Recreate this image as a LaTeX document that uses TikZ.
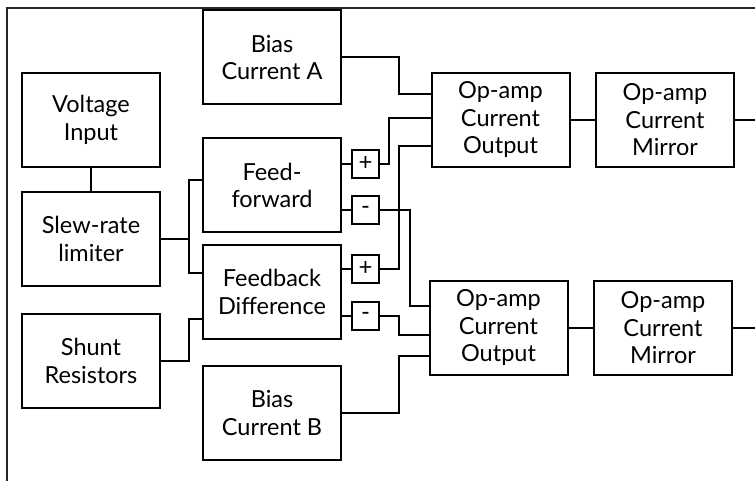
\documentclass[tikz,border=0pt]{standalone}
\usepackage{fontspec}
\setmainfont{Lato}
\usepackage{tikz}
\usetikzlibrary{positioning, calc}
\tikzset{
  block/.style={rectangle, draw=black, line width=2pt,
                minimum width=138pt, minimum height=94pt,
                inner sep=2pt, align=center,
                font=\fontsize{23.5}{27.5}\selectfont},
  signbox/.style={rectangle, draw=black, line width=1.8pt,
                  minimum width=27pt, minimum height=28pt,
                  inner sep=0pt, font=\fontsize{24}{26}\selectfont},
  wire/.style={draw=black, line width=2pt},
  frame/.style={draw=black!85, line width=1.5pt},
}

\begin{document}
\begin{tikzpicture}[x=1pt, y=-1pt]
    \useasboundingbox (0,0) rectangle (755,481);
    %% frame
    \draw[frame] (7,481) -- (7,8) -- (755,8);
    %% left column
    \node[block] (volt)  at (91,120) {Voltage\\Input};
    \node[block] (slew)  at (91,239) {Slew-rate\\limiter};
    \node[block] (shunt) at (91,361) {Shunt\\Resistors};
    %% middle column
    \node[block] (biasA)  at (272,57.5) {Bias\\Current A};
    \node[block] (ffwd)   at (272,185.5) {Feed-\\forward};
    \node[block] (fbdiff) at (272,292) {Feedback\\Difference};
    \node[block] (biasB)  at (272,413) {Bias\\Current B};
    %% sign boxes
    \node[signbox] (plusA)  at (365.5,164) {+};
    \node[signbox] (minusA) at (365.5,210) {-};
    \node[signbox] (plusB)  at (365.5,269) {+};
    \node[signbox] (minusB) at (365.5,316) {-};
    %% op-amps
    \node[block] (outA) at (500.5,120) {Op-amp\\Current\\Output};
    \node[block] (mirA) at (665,120)   {Op-amp\\Current\\Mirror};
    \node[block] (outB) at (498.5,328) {Op-amp\\Current\\Output};
    \node[block] (mirB) at (663,328)   {Op-amp\\Current\\Mirror};
    \coordinate (endA) at (755,120);
    \coordinate (endB) at (755,328);
    %% left wiring
    \draw[wire] (volt) -- (slew);
    \coordinate (split) at ([xshift=28pt]slew.east);
    \draw[wire] (slew.east) -- (split) |- ([yshift=5pt]ffwd.west);
    \draw[wire] (split) |- ([yshift=19pt]fbdiff.west);
    \draw[wire] (shunt.east) -- ++(28,0) |- ([yshift=-27pt]fbdiff.west);
    %% sign stubs
    \draw[wire] (ffwd.east |- plusA.west) -- (plusA.west);
    \draw[wire] (ffwd.east |- minusA.west) -- (minusA.west);
    \draw[wire] (fbdiff.east |- plusB.west) -- (plusB.west);
    \draw[wire] (fbdiff.east |- minusB.west) -- (minusB.west);
    %% into op-amp A
    \draw[wire] (biasA.east) -- ++(57,0) |- ([yshift=26pt]outA.west);
    \draw[wire] (plusA.east) -- ++(9,0) |- ([yshift=2pt]outA.west);
    \draw[wire] (plusB.east) -- ++(19,0) |- ([yshift=-26pt]outA.west);
    %% into op-amp B
    \draw[wire] (minusA.east) -- ++(30,0) |- ([yshift=22pt]outB.west);
    \draw[wire] (minusB.east) -- ++(19,0) |- ([yshift=-7pt]outB.west);
    \draw[wire] (biasB.east) -- ++(57,0) |- ([yshift=-28pt]outB.west);
    %% outputs
    \draw[wire] (outA) -- (mirA);
    \draw[wire] (mirA) -- (endA);
    \draw[wire] (outB) -- (mirB);
    \draw[wire] (mirB) -- (endB);
\end{tikzpicture}
\end{document}
